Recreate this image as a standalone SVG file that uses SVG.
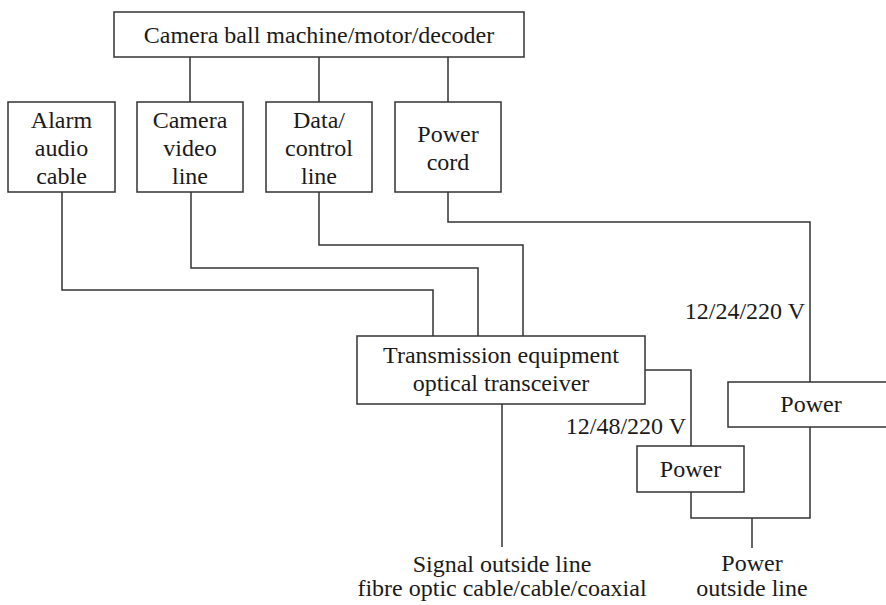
<svg xmlns="http://www.w3.org/2000/svg" width="886" height="605" viewBox="0 0 886 605">
<style>
rect{fill:#fff;stroke:#333;stroke-width:1.5}
.c path{fill:none;stroke:#333;stroke-width:1.5}
text{font-family:"Liberation Serif","Times New Roman",serif;font-size:24px;fill:#1a1a1a;text-anchor:middle}
</style>
<rect x="0" y="0" width="886" height="605" style="stroke:none"/>
<g class="c" id="connectors">
<path d="M190,57V102M319,57V102M448,57V102"/>
<path d="M62,192V290H433V336"/>
<path d="M191,192V268H478V336"/>
<path d="M319,192V245H523V336"/>
<path d="M448,192V222H810V382"/>
<path d="M645,370H691V446"/>
<path d="M502,404V547"/>
<path d="M691,492V518H810V427"/>
<path d="M752,518V548"/>
</g>
<g id="top"><rect x="114" y="12" width="410" height="45"/><text x="319" y="43">Camera ball machine/motor/decoder</text></g>
<g id="alarm"><rect x="8" y="102" width="107" height="90"/><text x="61.5" y="128">Alarm</text><text x="61.5" y="156">audio</text><text x="61.5" y="184">cable</text></g>
<g id="video"><rect x="137" y="102" width="106" height="90"/><text x="190" y="128">Camera</text><text x="190" y="156">video</text><text x="190" y="184">line</text></g>
<g id="data"><rect x="266" y="102" width="106" height="90"/><text x="319" y="128">Data/</text><text x="319" y="156">control</text><text x="319" y="184">line</text></g>
<g id="powercord"><rect x="395" y="102" width="106" height="90"/><text x="448" y="142">Power</text><text x="448" y="170">cord</text></g>
<g id="trans"><rect x="357" y="336" width="288" height="68"/><text x="501" y="363">Transmission equipment</text><text x="501" y="391">optical transceiver</text></g>
<g id="power1"><rect x="637" y="446" width="107" height="46"/><text x="690.5" y="477">Power</text></g>
<g id="power2"><rect x="728" y="382" width="170" height="45"/><text x="811" y="412">Power</text></g>
<g id="labels">
<text x="805" y="319" style="text-anchor:end">12/24/220 V</text>
<text x="686" y="434" style="text-anchor:end">12/48/220 V</text>
<text x="502" y="572">Signal outside line</text>
<text x="502" y="596">fibre optic cable/cable/coaxial</text>
<text x="752" y="571">Power</text>
<text x="752" y="596">outside line</text>
</g>
</svg>
